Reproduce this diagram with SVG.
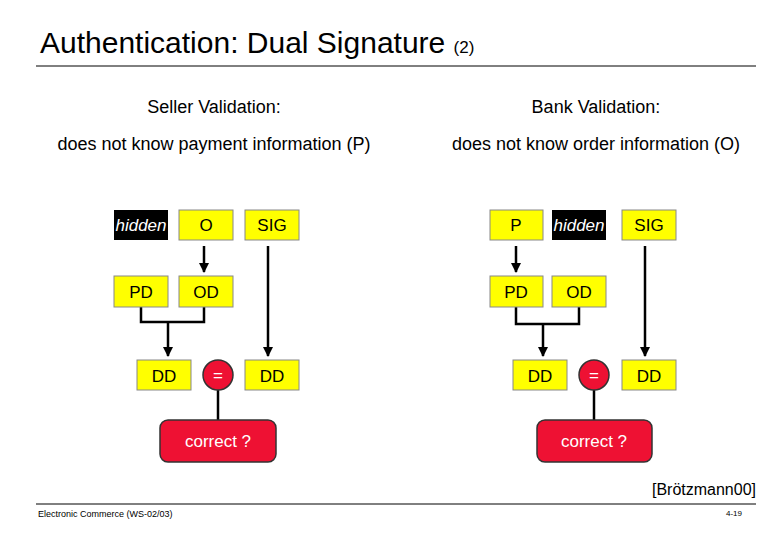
<svg xmlns="http://www.w3.org/2000/svg" width="780" height="540" viewBox="0 0 780 540">
<style>
text{font-family:"Liberation Sans",Arial,sans-serif}
.y{fill:#ffff00;stroke:#888;stroke-width:1}
.h{fill:#000}
.t{font-size:17px;text-anchor:middle;fill:#000}
.l{font-size:18px;text-anchor:middle;fill:#000}
.hi{font-size:17px;text-anchor:middle;fill:#fff;font-style:italic}
.w{font-size:17px;text-anchor:middle;fill:#fff}
.r{fill:#ee1133;stroke:#333;stroke-width:1.5}
.c{stroke:#000;stroke-width:2.5;fill:none}
.a{stroke:#000;stroke-width:2.5;fill:none;marker-end:url(#ar)}
</style>
<defs><marker id="ar" viewBox="0 0 10 10" refX="9" refY="5" markerWidth="4" markerHeight="4" orient="auto"><path d="M0,0L10,5L0,10z" fill="#000"/></marker></defs>
<rect width="780" height="540" fill="#fff"/>
<text x="40" y="53" font-size="30">Authentication: Dual Signature <tspan font-size="17">(2)</tspan></text>
<line x1="36" y1="66" x2="756" y2="66" stroke="#000" stroke-width="1"/>
<text x="214" y="113" class="l">Seller Validation:</text>
<text x="596" y="113" class="l">Bank Validation:</text>
<text x="214" y="150" class="l">does not know payment information (P)</text>
<text x="596" y="150" class="l">does not know order information (O)</text>
<g id="connectors">
<line x1="204" y1="246" x2="204" y2="272" class="a"/>
<path d="M141,307V322H204V307" class="c"/>
<line x1="168" y1="322" x2="168" y2="356" class="a"/>
<line x1="268" y1="246" x2="268" y2="356" class="a"/>
<line x1="218" y1="390" x2="218" y2="420" class="c"/>
<line x1="516" y1="246" x2="516" y2="272" class="a"/>
<path d="M516,307V324H579V307" class="c"/>
<line x1="543" y1="324" x2="543" y2="356" class="a"/>
<line x1="645" y1="246" x2="645" y2="356" class="a"/>
<line x1="594" y1="390" x2="594" y2="420" class="c"/>
</g>
<g id="s-hidden"><rect x="114" y="210" width="54" height="30" class="h"/><text x="141" y="231" class="hi">hidden</text></g>
<g id="s-O"><rect x="179" y="210" width="54" height="30" class="y"/><text x="206" y="231" class="t">O</text></g>
<g id="s-SIG"><rect x="245" y="210" width="54" height="30" class="y"/><text x="272" y="231" class="t">SIG</text></g>
<g id="s-PD"><rect x="114" y="276" width="54" height="31" class="y"/><text x="141" y="298" class="t">PD</text></g>
<g id="s-OD"><rect x="179" y="276" width="54" height="31" class="y"/><text x="206" y="298" class="t">OD</text></g>
<g id="s-DD1"><rect x="137" y="360" width="54" height="30" class="y"/><text x="164" y="382" class="t">DD</text></g>
<g id="s-eq"><circle cx="218" cy="375" r="15" class="r"/><text x="218" y="381" class="w">=</text></g>
<g id="s-DD2"><rect x="245" y="360" width="54" height="30" class="y"/><text x="272" y="382" class="t">DD</text></g>
<g id="s-correct"><rect x="160" y="420" width="116" height="42" rx="8" class="r"/><text x="218" y="447" class="w">correct ?</text></g>
<g id="b-P"><rect x="490" y="210" width="53" height="30" class="y"/><text x="516" y="231" class="t">P</text></g>
<g id="b-hidden"><rect x="552" y="210" width="54" height="30" class="h"/><text x="579" y="231" class="hi">hidden</text></g>
<g id="b-SIG"><rect x="622" y="210" width="54" height="30" class="y"/><text x="649" y="231" class="t">SIG</text></g>
<g id="b-PD"><rect x="490" y="276" width="53" height="31" class="y"/><text x="516" y="298" class="t">PD</text></g>
<g id="b-OD"><rect x="552" y="276" width="54" height="31" class="y"/><text x="579" y="298" class="t">OD</text></g>
<g id="b-DD1"><rect x="513" y="360" width="54" height="30" class="y"/><text x="540" y="382" class="t">DD</text></g>
<g id="b-eq"><circle cx="594" cy="375" r="15" class="r"/><text x="594" y="381" class="w">=</text></g>
<g id="b-DD2"><rect x="622" y="360" width="54" height="30" class="y"/><text x="649" y="382" class="t">DD</text></g>
<g id="b-correct"><rect x="537" y="420" width="115" height="42" rx="8" class="r"/><text x="594" y="447" class="w">correct ?</text></g>
<text x="756" y="495" font-size="16" text-anchor="end">[Brötzmann00]</text>
<line x1="36" y1="504" x2="756" y2="504" stroke="#000" stroke-width="1"/>
<text x="38" y="517" font-size="9">Electronic Commerce (WS-02/03)</text>
<text x="742" y="516" font-size="8" text-anchor="end">4-19</text>
</svg>
